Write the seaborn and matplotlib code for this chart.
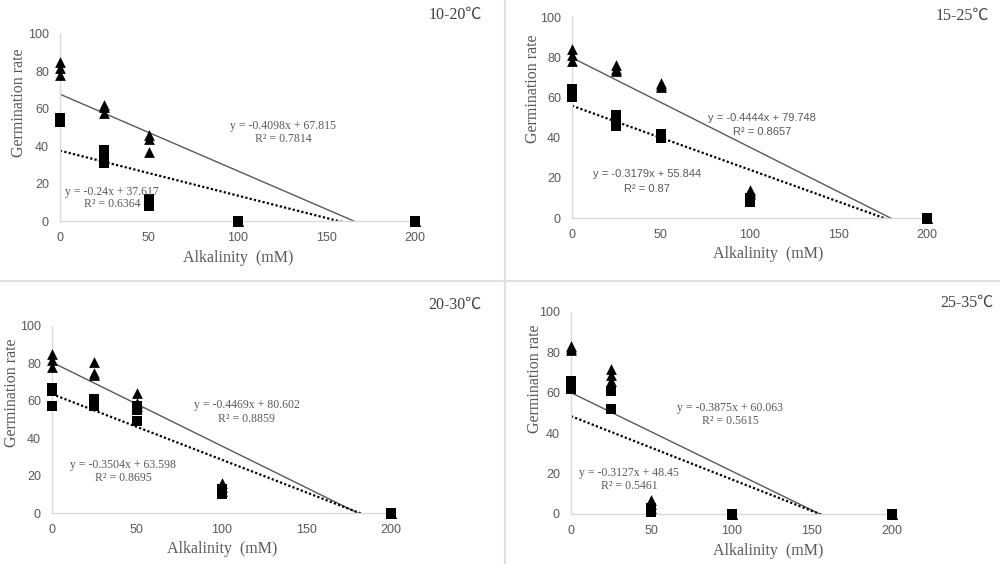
import numpy as np
import pandas as pd
import matplotlib
matplotlib.use('Agg')
import matplotlib.pyplot as plt
import seaborn as sns
from matplotlib.lines import Line2D

sns.set_theme(style='white')
plt.rcParams['font.family'] = ['Liberation Sans', 'DejaVu Sans']

# alkalinity levels (3 replicates each)
alkalinity = [0, 0, 0, 25, 25, 25, 50, 50, 50, 100, 100, 100, 200, 200, 200]

# germination rate, triangles (solid trend) and squares (dotted trend)
tri_1020 = [85, 82, 78, 62, 61, 58, 46, 44, 37, 0, 0, 0, 0, 0, 0]
sq_1020 = [55, 54, 53, 38, 35, 31, 12, 10, 8, 0, 0, 0, 0, 0, 0]
tri_1525 = [84, 81, 78, 76, 74, 73, 67, 66, 65, 14, 13, 12, 0, 0, 0]
sq_1525 = [64, 62, 60, 51, 48, 46, 42, 41, 40, 10, 9, 8, 0, 0, 0]
tri_2030 = [85, 82, 78, 81, 75, 74, 64, 59, 57, 16, 14, 12, 0, 0, 0]
sq_2030 = [67, 65, 57, 61, 59, 57, 57, 55, 49, 13, 11, 10, 0, 0, 0]
tri_2535 = [83, 82, 81, 72, 69, 66, 7, 5, 3, 0, 0, 0, 0, 0, 0]
sq_2535 = [66, 64, 62, 61, 61, 52, 3, 2, 1, 0, 0, 0, 0, 0, 0]

titles = ['10-20℃', '15-25℃', '20-30℃', '25-35℃']
tri_slope = [-0.4098, -0.4444, -0.4469, -0.3875]
tri_icept = [67.815, 79.748, 80.602, 60.063]
tri_r2 = ['0.7814', '0.8657', '0.8859', '0.5615']
sq_slope = [-0.24, -0.3179, -0.3504, -0.3127]
sq_icept = [37.617, 55.844, 63.598, 48.45]
sq_r2 = ['0.6364', '0.87', '0.8695', '0.5461']
tri_eq = ['y = -0.4098x + 67.815', 'y = -0.4444x + 79.748', 'y = -0.4469x + 80.602', 'y = -0.3875x + 60.063']
sq_eq = ['y = -0.24x + 37.617', 'y = -0.3179x + 55.844', 'y = -0.3504x + 63.598', 'y = -0.3127x + 48.45']

tri_sets = [tri_1020, tri_1525, tri_2030, tri_2535]
sq_sets = [sq_1020, sq_1525, sq_2030, sq_2535]

# layout in pixels: x of 0, x of 200, y of 100, y of 0
boxes = [(60, 415, 34, 221), (572, 927, 17, 218), (52, 391, 326, 513), (571, 892, 312, 514)]
title_xy = [(455, 15), (962, 16), (455, 305), (967, 303)]
ylab_xy = [(19, 103), (533, 89), (12, 393), (535, 379)]
xlab_xy = [(238, 258), (768, 254), (222, 549), (768, 551)]
tri_txt = [(125.6, 50.8, 43.9), (107, 49.8, 42.8), (115, 57.8, 50.3), (99, 52.5, 46.0)]
sq_txt = [(29.3, 15.5, 9.1), (42.3, 21.9, 14.4), (41.9, 25.7, 18.7), (36.1, 20.3, 13.9)]

W, H = 1000, 564
fig = plt.figure(figsize=(10, 5.64), dpi=100)
fig.patch.set_facecolor('white')

serif = ['Liberation Serif', 'Noto Sans CJK SC', 'DejaVu Sans']
grey = '#595959'
axis_col = '#d9d9d9'

for i in range(4):
    x0, x1, yt, yb = boxes[i]
    ax = fig.add_axes([x0 / W, 1 - yb / H, (x1 - x0) / W, (yb - yt) / H])
    df = pd.DataFrame({'alk': alkalinity, 'tri': tri_sets[i], 'sq': sq_sets[i]})

    xs = np.array([0, 200])
    sns.lineplot(x=xs, y=tri_slope[i] * xs + tri_icept[i], ax=ax, color=grey, lw=1.0)
    sns.lineplot(x=xs, y=sq_slope[i] * xs + sq_icept[i], ax=ax, color='black', lw=1.6,
                 linestyle=(0, (1, 1)))
    sns.scatterplot(data=df, x='alk', y='sq', ax=ax, marker='s', color='black', s=60,
                    linewidth=0, clip_on=False, zorder=3)
    sns.scatterplot(data=df, x='alk', y='tri', ax=ax, marker='^', color='black', s=60,
                    linewidth=0, clip_on=False, zorder=3)

    ax.set_xlim(0, 200)
    ax.set_ylim(0, 100)
    ax.set_xticks([0, 50, 100, 150, 200])
    ax.set_yticks([0, 20, 40, 60, 80, 100])
    ax.set_xlabel('')
    ax.set_ylabel('')
    ax.tick_params(length=0, labelsize=9, colors=grey, pad=8)
    for s in ['top', 'right']:
        ax.spines[s].set_visible(False)
    for s in ['left', 'bottom']:
        ax.spines[s].set_color(axis_col)
        ax.spines[s].set_linewidth(1.0)
    ax.set_facecolor('none')

    eq_family = ['Liberation Sans', 'DejaVu Sans'] if i == 1 else serif
    eq_size = 8 if i == 1 else 8.5
    tx, ty1, ty2 = tri_txt[i]
    ax.text(tx, ty1, tri_eq[i], ha='center', va='center', fontsize=eq_size, color=grey, family=eq_family)
    ax.text(tx, ty2, 'R² = ' + tri_r2[i], ha='center', va='center', fontsize=eq_size, color=grey, family=eq_family)
    sx, sy1, sy2 = sq_txt[i]
    ax.text(sx, sy1, sq_eq[i], ha='center', va='center', fontsize=eq_size, color=grey, family=eq_family)
    ax.text(sx, sy2, 'R² = ' + sq_r2[i], ha='center', va='center', fontsize=eq_size, color=grey, family=eq_family)

    fig.text(title_xy[i][0] / W, 1 - title_xy[i][1] / H, titles[i], ha='center', va='center',
             fontsize=11.5, color='#404040', family=serif)
    fig.text(ylab_xy[i][0] / W, 1 - ylab_xy[i][1] / H, 'Germination rate', ha='center', va='center',
             rotation=90, fontsize=11.5, color=grey, family=serif)
    fig.text(xlab_xy[i][0] / W, 1 - xlab_xy[i][1] / H, 'Alkalinity  (mM)', ha='center', va='center',
             fontsize=11.5, color=grey, family=serif)

# panel separators
fig.add_artist(Line2D([0, 1], [1 - 281 / H, 1 - 281 / H], color='#e0e0e0', lw=1.5))
fig.add_artist(Line2D([505 / W, 505 / W], [0, 1], color='#e0e0e0', lw=1.5))

fig.savefig('out.png', dpi=100, facecolor='white')
